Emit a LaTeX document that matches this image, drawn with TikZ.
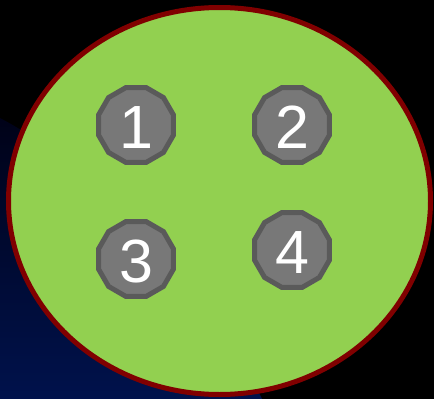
\documentclass[tikz,border=0pt]{standalone}
\usepackage{fontspec}
\setmainfont{Liberation Sans}
\usetikzlibrary{shapes.geometric}
\definecolor{navyA}{RGB}{0,18,76}
\definecolor{navyB}{RGB}{0,2,24}
\definecolor{greenF}{RGB}{146,208,80}
\definecolor{redB}{RGB}{128,0,0}
\definecolor{grayF}{RGB}{120,120,120}
\definecolor{grayB}{RGB}{90,90,90}
\tikzset{
  pin/.style={regular polygon, regular polygon sides=12, minimum size=77.6pt,
    inner sep=0pt, fill=grayF, draw=grayB, line width=5pt},
  digit/.style={inner sep=0pt, text=white, font=\fontsize{61}{61}\selectfont},
}
\begin{document}
\begin{tikzpicture}[x=1pt,y=-1pt]
\useasboundingbox (0,0) rectangle (434,399);
\fill[black] (0,0) rectangle (434,399);
\shade[top color=navyB, bottom color=navyA]
  (0,118) .. controls (90,165) and (205,280) .. (262,399) -- (0,399) -- cycle;
\draw[fill=greenF, draw=redB, line width=5pt] (219.5,201) ellipse [x radius=211, y radius=193.5];
\node[pin] (p1) at (136,125) {};
\node[pin] (p2) at (292,125) {};
\node[pin] (p3) at (136,259) {};
\node[pin] (p4) at (292,250) {};
\node[digit] (t1) at ([yshift=-2.5pt]p1.center) {1};
\node[digit] (t2) at ([yshift=-2.5pt]p2.center) {2};
\node[digit] (t3) at ([yshift=-2.5pt]p3.center) {3};
\node[digit] (t4) at ([yshift=-2.5pt]p4.center) {4};
\end{tikzpicture}
\end{document}
